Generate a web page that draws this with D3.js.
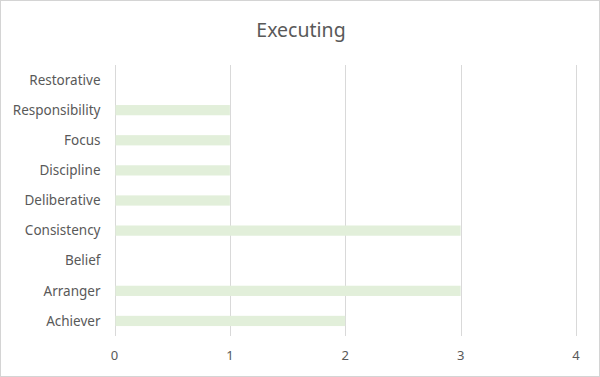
<!DOCTYPE html>
<html>
<head>
<meta charset="utf-8">
<script src="https://cdn.jsdelivr.net/npm/d3@7"></script>
<style>
  body { margin: 0; background: #fff; }
  svg { display: block; font-family: "Noto Sans", "Open Sans", sans-serif; }
</style>
</head>
<body>
<div id="chart"></div>
<script>
// data, top to bottom as drawn
const categories = ["Restorative", "Responsibility", "Focus", "Discipline", "Deliberative",
                    "Consistency", "Belief", "Arranger", "Achiever"];
const values = [0, 1, 1, 1, 1, 3, 0, 3, 2];
const xTicks = [0, 1, 2, 3, 4];
const title = "Executing";

const width = 600, height = 377;
const margin = {top: 65, right: 24, bottom: 41, left: 114.5};

const svg = d3.select("#chart")
  .append("svg")
    .attr("width", width)
    .attr("height", height)
    .attr("viewBox", [0, 0, width, height]);

// outer border
svg.append("rect")
    .attr("x", 0.5).attr("y", 0.5)
    .attr("width", width - 1).attr("height", height - 1)
    .attr("fill", "#fff")
    .attr("stroke", "#d4d4d4");

const x = d3.scaleLinear([0, 4], [margin.left, width - margin.right]);
const y = d3.scaleBand(categories, [margin.top, height - margin.bottom])
    .paddingInner(0.66).paddingOuter(0.33);

svg.append("text")
    .attr("x", width / 2 + 1)
    .attr("y", 37)
    .attr("text-anchor", "middle")
    .attr("fill", "#595959")
    .attr("font-size", 19.5)
    .text(title);

// vertical gridlines
svg.append("g")
  .selectAll("line")
  .data(xTicks)
  .join("line")
    .attr("x1", d => Math.round(x(d)) + 0.5)
    .attr("x2", d => Math.round(x(d)) + 0.5)
    .attr("y1", margin.top)
    .attr("y2", height - margin.bottom)
    .attr("stroke", "#d9d9d9");

// bars
svg.append("g")
  .selectAll("rect")
  .data(categories.map((c, i) => ({c, v: values[i]})))
  .join("rect")
    .attr("x", x(0) + 1)
    .attr("y", d => y(d.c))
    .attr("width", d => Math.max(0, x(d.v) - x(0) - 1))
    .attr("height", y.bandwidth())
    .attr("fill", "#e2efda");

// category labels
svg.append("g")
    .attr("text-anchor", "end")
    .attr("fill", "#595959")
    .attr("font-size", 13.5)
  .selectAll("text")
  .data(categories)
  .join("text")
    .attr("x", margin.left - 14)
    .attr("y", d => y(d) + y.bandwidth() / 2)
    .attr("dy", "0.35em")
    .text(d => d);

// x tick labels
svg.append("g")
    .attr("text-anchor", "middle")
    .attr("fill", "#595959")
    .attr("font-size", 13)
  .selectAll("text")
  .data(xTicks)
  .join("text")
    .attr("x", d => x(d))
    .attr("y", 360)
    .text(d => d);
</script>
</body>
</html>
